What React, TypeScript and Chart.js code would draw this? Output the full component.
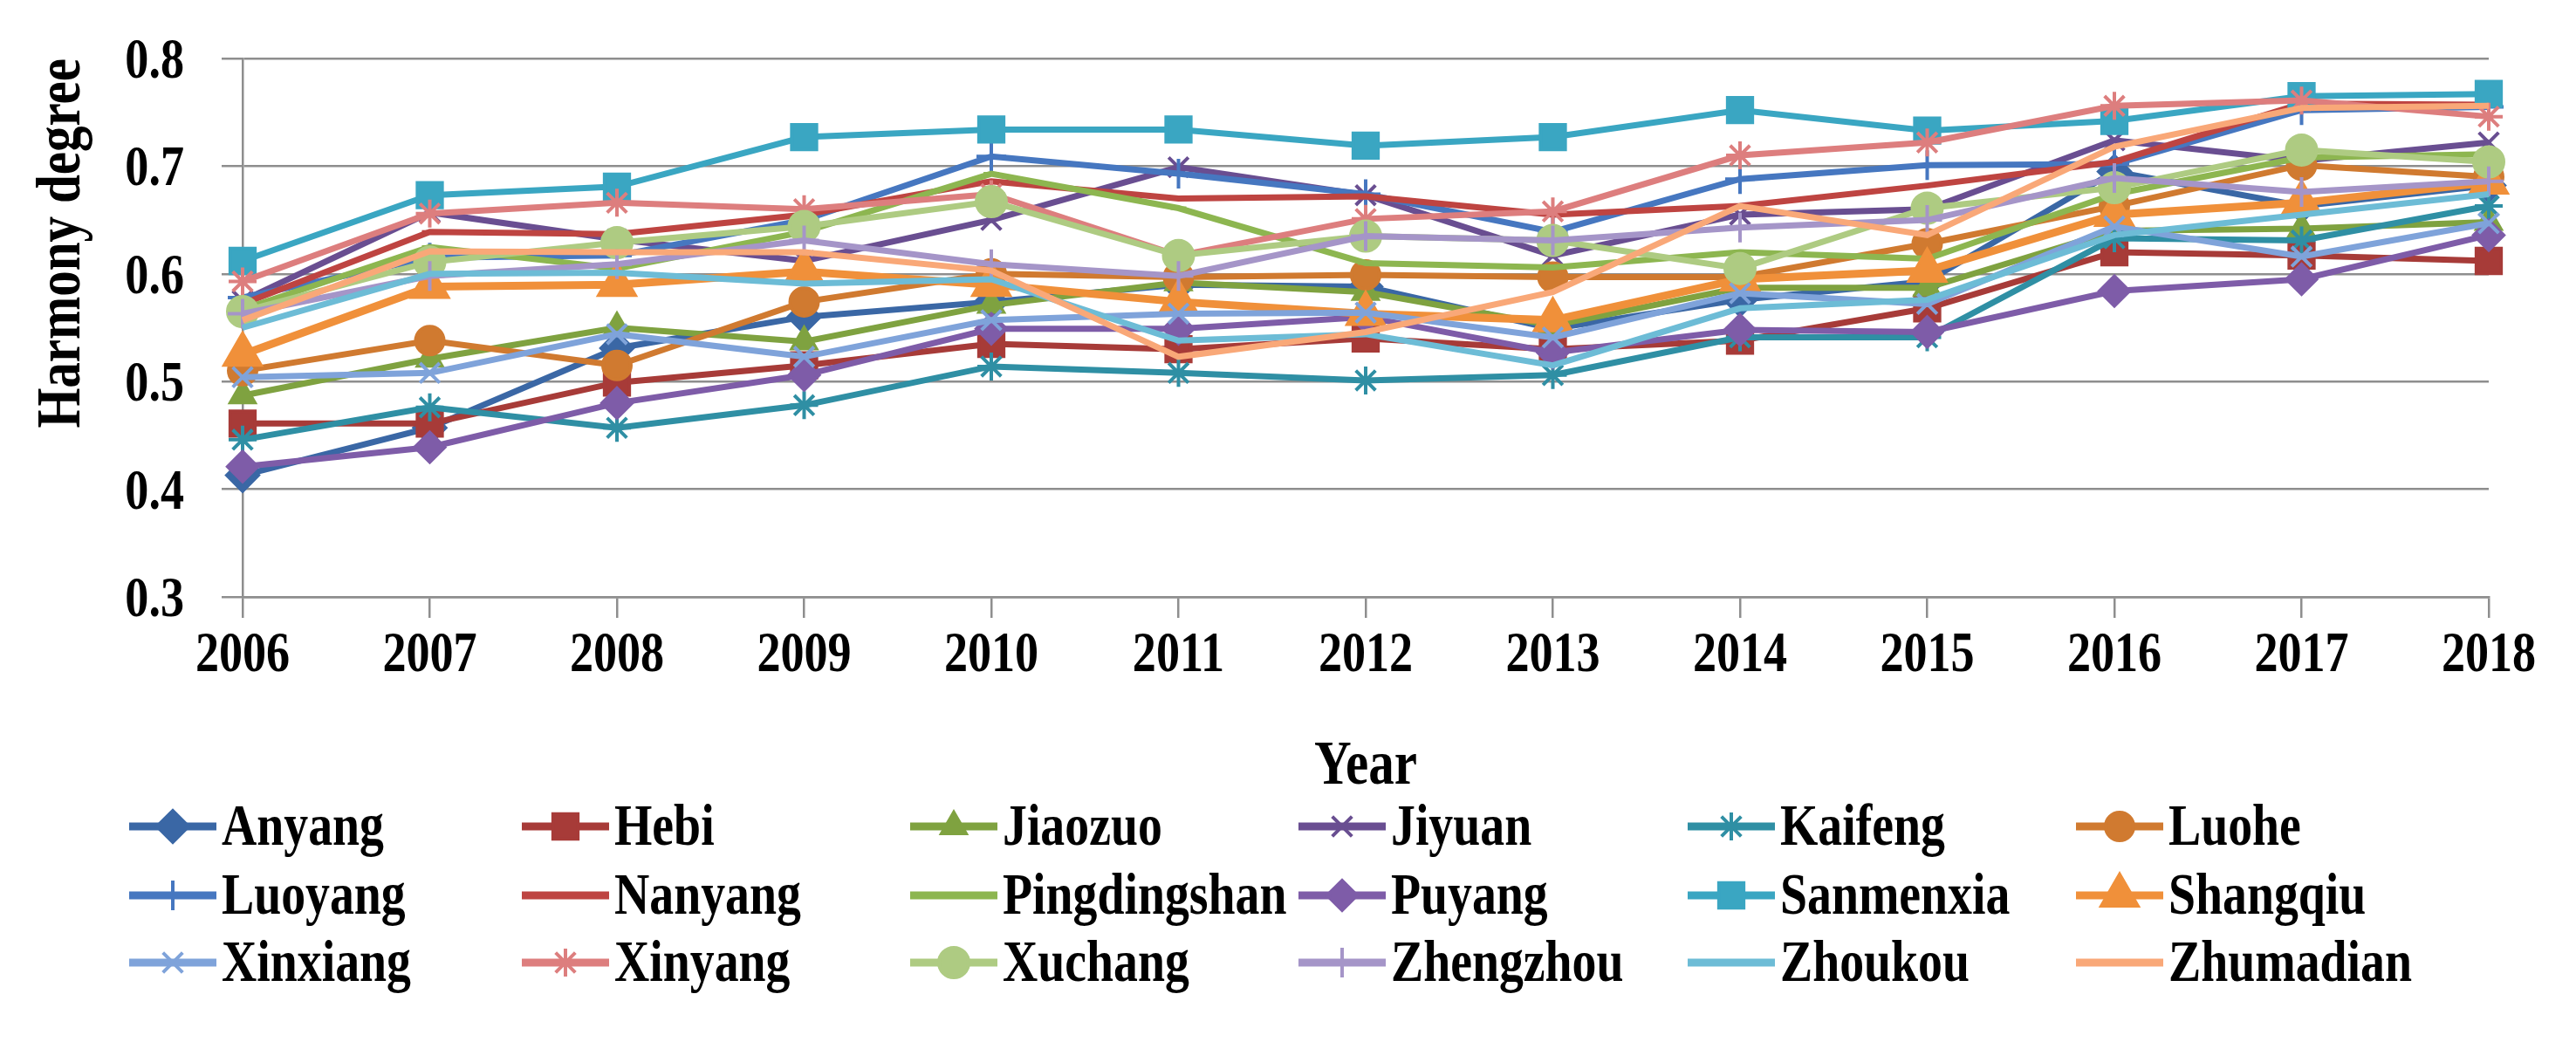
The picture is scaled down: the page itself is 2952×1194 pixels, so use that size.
import React, { useEffect, useRef } from "react";
import { Chart, registerables } from "chart.js";
import { drawPoint } from "chart.js/helpers";

Chart.register(...registerables);

const years = ["2006", "2007", "2008", "2009", "2010", "2011", "2012", "2013", "2014", "2015", "2016", "2017", "2018"];

const seriesNames = [
  "Anyang", "Hebi", "Jiaozuo", "Jiyuan", "Kaifeng", "Luohe",
  "Luoyang", "Nanyang", "Pingdingshan", "Puyang", "Sanmenxia", "Shangqiu",
  "Xinxiang", "Xinyang", "Xuchang", "Zhengzhou", "Zhoukou", "Zhumadian",
];

const anyang = [0.413, 0.457, 0.531, 0.560, 0.574, 0.590, 0.588, 0.549, 0.576, 0.593, 0.695, 0.663, 0.682];
const hebi = [0.461, 0.461, 0.499, 0.515, 0.535, 0.530, 0.540, 0.530, 0.538, 0.568, 0.620, 0.617, 0.612];
const jiaozuo = [0.487, 0.521, 0.550, 0.537, 0.571, 0.592, 0.583, 0.552, 0.587, 0.587, 0.640, 0.642, 0.648];
const jiyuan = [0.575, 0.657, 0.632, 0.612, 0.650, 0.699, 0.673, 0.617, 0.655, 0.660, 0.724, 0.705, 0.722];
const kaifeng = [0.446, 0.476, 0.457, 0.478, 0.514, 0.508, 0.501, 0.506, 0.541, 0.541, 0.633, 0.631, 0.663];
const luohe = [0.510, 0.538, 0.515, 0.574, 0.600, 0.597, 0.599, 0.597, 0.597, 0.628, 0.663, 0.701, 0.690];
const luoyang = [0.578, 0.615, 0.617, 0.650, 0.709, 0.693, 0.674, 0.639, 0.688, 0.701, 0.702, 0.752, 0.755];
const nanyang = [0.572, 0.639, 0.637, 0.655, 0.686, 0.670, 0.672, 0.655, 0.663, 0.682, 0.704, 0.758, 0.757];
const pingdingshan = [0.567, 0.625, 0.605, 0.639, 0.693, 0.661, 0.610, 0.606, 0.620, 0.614, 0.674, 0.708, 0.711];
const puyang = [0.421, 0.439, 0.480, 0.506, 0.549, 0.549, 0.560, 0.527, 0.548, 0.546, 0.584, 0.595, 0.636];
const sanmenxia = [0.612, 0.673, 0.681, 0.727, 0.734, 0.734, 0.719, 0.727, 0.752, 0.733, 0.742, 0.765, 0.767];
const shangqiu = [0.525, 0.588, 0.590, 0.602, 0.590, 0.574, 0.563, 0.557, 0.595, 0.603, 0.655, 0.666, 0.685];
const xinxiang = [0.504, 0.508, 0.544, 0.523, 0.557, 0.563, 0.564, 0.541, 0.582, 0.572, 0.644, 0.616, 0.647];
const xinyang = [0.593, 0.656, 0.666, 0.660, 0.674, 0.617, 0.651, 0.658, 0.710, 0.722, 0.756, 0.761, 0.746];
const xuchang = [0.565, 0.611, 0.629, 0.644, 0.667, 0.617, 0.635, 0.631, 0.605, 0.661, 0.680, 0.715, 0.704];
const zhengzhou = [0.563, 0.598, 0.609, 0.631, 0.609, 0.598, 0.635, 0.631, 0.643, 0.650, 0.689, 0.676, 0.686];
const zhoukou = [0.550, 0.600, 0.601, 0.591, 0.595, 0.538, 0.544, 0.515, 0.568, 0.576, 0.636, 0.655, 0.674];
const zhumadian = [0.557, 0.621, 0.620, 0.620, 0.603, 0.523, 0.546, 0.583, 0.663, 0.636, 0.718, 0.754, 0.756];

const seriesValues = [
  anyang, hebi, jiaozuo, jiyuan, kaifeng, luohe,
  luoyang, nanyang, pingdingshan, puyang, sanmenxia, shangqiu,
  xinxiang, xinyang, xuchang, zhengzhou, zhoukou, zhumadian,
];

const seriesColors = [
  "#3A67A5", "#A73B38", "#7FA240", "#694E91", "#2F8FA4", "#D07A30",
  "#4677C0", "#BE4441", "#8DB650", "#7E5CA8", "#3AA6C2", "#F0903A",
  "#7FA3DA", "#DD7E7E", "#AECB82", "#A595C8", "#6DBCD6", "#F9A878",
];

const seriesMarkers = [
  "rectRot", "rect", "triangle", "crossRot", "star", "circle",
  "cross", "line", "line", "rectRot", "rect", "triangle",
  "crossRot", "star", "circle", "cross", "circle", "circle",
];

const seriesMarkerRadius = [18, 20, 16, 16, 16, 16, 17, 9, 9, 17, 20, 24, 16, 16, 17, 17, 0, 0];
const seriesLineWidth = [7, 7, 7, 7, 7, 7, 7, 7, 7, 7, 7, 9, 7, 7, 7, 7, 7, 7];

const yTicks = [0.3, 0.4, 0.5, 0.6, 0.7, 0.8];
const xTitle = "Year";
const yTitle = "Harmony degree";

const FONT = "'Liberation Serif', 'Times New Roman', serif";
const SQUEEZE = 0.82;
const LEGEND_COL_X = [148, 598, 1043, 1488, 1934, 2379];
const LEGEND_ROW_Y = [947, 1026, 1103];

function squeezedText(ctx: CanvasRenderingContext2D, text: string, x: number, y: number, size: number, align: CanvasTextAlign, rotation = 0) {
  ctx.save();
  ctx.translate(x, y);
  if (rotation) ctx.rotate(rotation);
  ctx.scale(SQUEEZE, 1);
  ctx.font = `bold ${size}px ${FONT}`;
  ctx.fillStyle = "#000";
  ctx.textAlign = align;
  ctx.textBaseline = "alphabetic";
  ctx.fillText(text, 0, 0);
  ctx.restore();
}

const axisText = {
  id: "axisText",
  afterDraw(chart: any) {
    const ctx = chart.ctx;
    const xs = chart.scales.x;
    const ys = chart.scales.y;
    const area = chart.chartArea;
    years.forEach((label, i) => {
      squeezedText(ctx, label, xs.getPixelForTick(i), area.bottom + 85, 66, "center");
    });
    yTicks.forEach((v) => {
      squeezedText(ctx, v.toFixed(1), area.left - 67, ys.getPixelForValue(v) + 22, 66, "right");
    });
    squeezedText(ctx, xTitle, (area.left + area.right) / 2, area.bottom + 214, 72, "center");
    squeezedText(ctx, yTitle, 91, area.top, 72, "right", -Math.PI / 2);
  },
};

const gridLegend = {
  id: "gridLegend",
  afterDraw(chart: any) {
    const ctx = chart.ctx;
    chart.data.datasets.forEach((ds: any, i: number) => {
      const col = i % 6;
      const row = Math.floor(i / 6);
      const x0 = LEGEND_COL_X[col];
      const y = LEGEND_ROW_Y[row];
      ctx.save();
      ctx.strokeStyle = ds.borderColor;
      ctx.lineWidth = 9;
      ctx.lineCap = "butt";
      ctx.beginPath();
      ctx.moveTo(x0, y);
      ctx.lineTo(x0 + 100, y);
      ctx.stroke();
      if (ds.pointRadius > 0) {
        ctx.fillStyle = ds.borderColor;
        ctx.strokeStyle = ds.borderColor;
        ctx.lineWidth = ds.pointBorderWidth;
        drawPoint(ctx, { pointStyle: ds.pointStyle, radius: ds.pointRadius, borderWidth: ds.pointBorderWidth, rotation: 0 } as any, x0 + 50, y);
      }
      ctx.restore();
      squeezedText(ctx, ds.label, x0 + 106, y + 21, 68, "left");
    });
  },
};

export default function App() {
  const ref = useRef<HTMLCanvasElement | null>(null);

  useEffect(() => {
    document.body.style.margin = "0";
    document.body.style.overflow = "hidden";
    const canvas = ref.current;
    if (!canvas) return;
    const datasets = seriesNames.map((name, i) => ({
      label: name,
      data: seriesValues[i],
      borderColor: seriesColors[i],
      backgroundColor: seriesColors[i],
      pointBackgroundColor: seriesColors[i],
      pointBorderColor: seriesColors[i],
      borderWidth: seriesLineWidth[i],
      pointStyle: seriesMarkers[i],
      pointRadius: seriesMarkerRadius[i],
      pointBorderWidth: 4,
      tension: 0,
      fill: false,
      order: -i,
    }));

    const chart = new Chart(canvas, {
      type: "line",
      data: { labels: years, datasets },
      plugins: [axisText, gridLegend],
      options: {
        responsive: false,
        animation: false,
        devicePixelRatio: 1,
        layout: { padding: { top: 67, left: 0, right: 100, bottom: 282 } },
        plugins: { legend: { display: false }, tooltip: { enabled: false } },
        scales: {
          x: {
            type: "category",
            offset: false,
            grid: { display: true, drawOnChartArea: false, drawTicks: true, tickLength: 24, color: "#8E8E8E", lineWidth: 2.5 },
            border: { display: true, color: "#8E8E8E", width: 2.5 },
            ticks: { display: false, autoSkip: false, maxRotation: 0 },
            title: { display: false },
            afterFit: (scale: any) => { scale.height = 228; },
          },
          y: {
            min: 0.3,
            max: 0.8,
            afterBuildTicks: (scale: any) => { scale.ticks = yTicks.map((v) => ({ value: v })); },
            grid: { display: true, drawOnChartArea: true, drawTicks: true, tickLength: 24, color: "#8E8E8E", lineWidth: 2.5 },
            border: { display: true, color: "#8E8E8E", width: 2.5 },
            ticks: { display: false },
            title: { display: false },
            afterFit: (scale: any) => { scale.width = 278; },
          },
        },
      },
    } as any);
    return () => chart.destroy();
  }, []);

  return (
    <div style={{ width: 2952, height: 1194, position: "relative", background: "#fff" }}>
      <canvas ref={ref} width={2952} height={1194} style={{ width: 2952, height: 1194, display: "block" }} />
    </div>
  );
}
